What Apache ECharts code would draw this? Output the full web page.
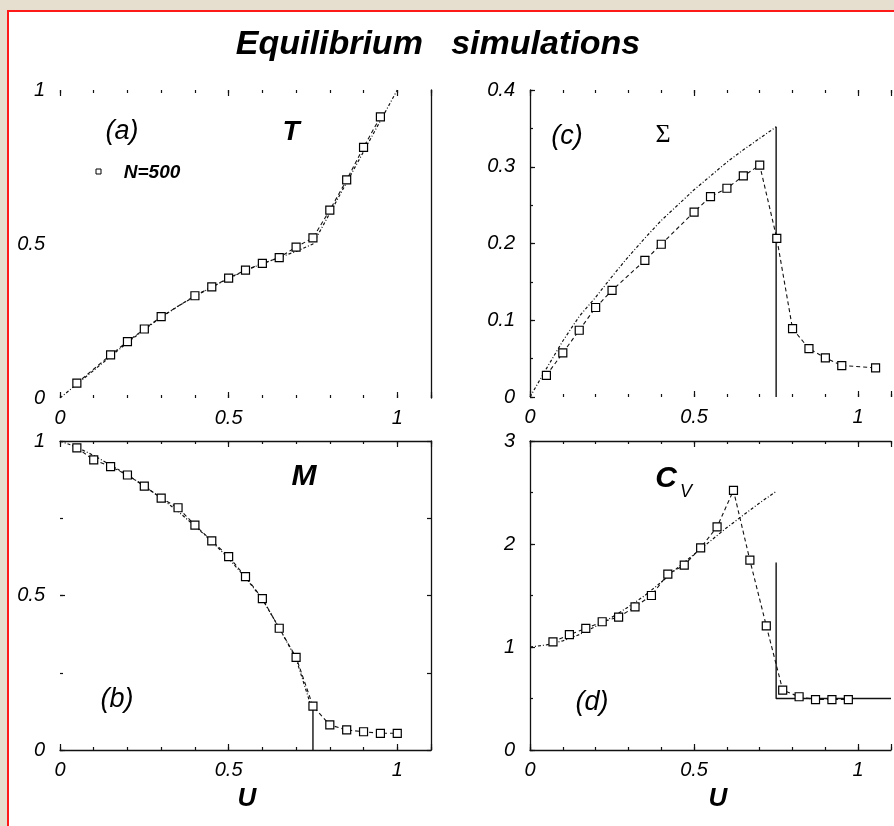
<!DOCTYPE html>
<html><head><meta charset="utf-8">
<script src="https://cdn.jsdelivr.net/npm/echarts@6/dist/echarts.min.js"></script>
<style>
html,body{margin:0;padding:0;background:#e6dfd0;width:894px;height:826px;overflow:hidden;}
#frame{position:absolute;left:7px;top:10px;width:900px;height:830px;background:#fff;border:2px solid #ff1a1a;}
#chart{position:absolute;left:0;top:0;width:894px;height:826px;}
</style></head><body><div id="frame"></div><div id="chart"></div>
<script>
// ---------- DATA ----------
// (a) T vs U
const thA_U = [0,0.05,0.1,0.15,0.2,0.25,0.3,0.35,0.4,0.45,0.5,0.55,0.6,0.65,0.7,0.75,0.8,0.85,0.9,0.95,1.0];
const thA_T = [0,0.045,0.09,0.135,0.18,0.222,0.262,0.298,0.33,0.36,0.388,0.414,0.436,0.456,0.476,0.5,0.6,0.7,0.8,0.9,1.0];
const simA_U = [0.05,0.15,0.2,0.25,0.3,0.4,0.45,0.5,0.55,0.6,0.65,0.7,0.75,0.8,0.85,0.9,0.95];
const simA_T = [0.048,0.14,0.183,0.224,0.264,0.332,0.361,0.389,0.415,0.437,0.456,0.49,0.52,0.61,0.708,0.814,0.913];
// (b) M vs U
const thB_U = [0,0.05,0.1,0.15,0.2,0.25,0.3,0.35,0.4,0.45,0.5,0.55,0.6,0.65,0.7,0.745];
const thB_M = [1,0.98,0.953,0.922,0.89,0.855,0.815,0.772,0.725,0.675,0.62,0.558,0.488,0.395,0.295,0.14];
const jumpB_U = [0.75,0.75];
const jumpB_M = [0.13,0];
const simB_U = [0.05,0.1,0.15,0.2,0.25,0.3,0.35,0.4,0.45,0.5,0.55,0.6,0.65,0.7,0.75,0.8,0.85,0.9,0.95,1.0];
const simB_M = [0.978,0.939,0.917,0.89,0.854,0.815,0.784,0.728,0.677,0.626,0.561,0.49,0.394,0.3,0.142,0.081,0.065,0.059,0.054,0.054];
// (c) Sigma vs U
const thC_U = [0,0.05,0.1,0.15,0.2,0.25,0.3,0.35,0.4,0.45,0.5,0.55,0.6,0.65,0.7,0.75];
const thC_S = [0,0.037,0.073,0.105,0.13,0.157,0.183,0.207,0.23,0.25,0.27,0.288,0.306,0.322,0.337,0.352];
const jumpC_U = [0.75,0.75];
const jumpC_S = [0.352,0];
const simC_U = [0.05,0.1,0.15,0.2,0.25,0.35,0.4,0.5,0.55,0.6,0.65,0.7,0.752,0.8,0.85,0.9,0.95,1.053];
const simC_S = [0.0283,0.0574,0.087,0.1166,0.139,0.178,0.199,0.241,0.261,0.272,0.288,0.302,0.2066,0.089,0.063,0.051,0.041,0.038];
// (d) Cv vs U
const thD_U = [0,0.05,0.1,0.15,0.2,0.25,0.3,0.35,0.4,0.45,0.5,0.55,0.6,0.65,0.7,0.75];
const thD_C = [1.0,1.02,1.06,1.12,1.2,1.29,1.39,1.5,1.63,1.77,1.9,2.03,2.16,2.28,2.4,2.51];
const jumpD_U = [0.75,0.75,1.1];
const jumpD_C = [1.82,0.5,0.5];
const simD_U = [0.07,0.12,0.17,0.22,0.27,0.32,0.37,0.42,0.47,0.52,0.57,0.62,0.67,0.72,0.77,0.82,0.87,0.92,0.97];
const simD_C = [1.05,1.12,1.18,1.245,1.29,1.39,1.5,1.707,1.794,1.963,2.166,2.52,1.843,1.206,0.582,0.517,0.49,0.49,0.49];
// tick labels
const xTickLabels = ['0','0.5','1'];

// ---------- BUILD ----------
const FONT = 'Liberation Sans';
const INK = '#111';
const panels = [
  {grid:{left:60,top:90,width:371,height:308}, yMax:1, yInt:0.5, yMinor:null, rightTick:null,
   lines:{left:false,right:true,top:false,bottom:false}},
  {grid:{left:530,top:90,width:371,height:307}, yMax:0.4, yInt:0.1, yMinor:0.05, rightTick:null,
   lines:{left:true,right:false,top:false,bottom:false}},
  {grid:{left:60,top:441,width:371,height:309}, yMax:1, yInt:0.5, yMinor:0.25, rightTick:0.25,
   lines:{left:false,right:true,top:true,bottom:true}},
  {grid:{left:530,top:441,width:371,height:309}, yMax:3, yInt:1, yMinor:0.5, rightTick:null,
   lines:{left:true,right:false,top:true,bottom:true}}
];
const xAxes = [], yAxes = [];
const lineSt = {show:true, onZero:false, lineStyle:{color:INK, width:1.3}};
panels.forEach((p,gi)=>{
  const mk = (pos, interval, tickLen, showLine, showLabel) => ({
    gridIndex:gi, type:'value', position:pos, min:0, max:1.1, interval:interval,
    axisLine: showLine ? lineSt : {show:false, onZero:false},
    axisTick:{show:true, inside:true, length:tickLen, lineStyle:{color:INK,width:1.2}},
    axisLabel: showLabel ? {show:true, margin:10, fontFamily:FONT, fontStyle:'italic', fontSize:20, color:'#000',
      formatter:v=> (Math.abs(v)<1e-9?xTickLabels[0]:Math.abs(v-0.5)<1e-9?xTickLabels[1]:Math.abs(v-1)<1e-9?xTickLabels[2]:'')} : {show:false},
    splitLine:{show:false}
  });
  xAxes.push(mk('bottom',0.5,6,p.lines.bottom,true));
  xAxes.push(mk('bottom',0.1,3,false,false));
  xAxes.push(mk('top',0.5,6,p.lines.top,false));
  xAxes.push(mk('top',0.1,3,false,false));
  yAxes.push({gridIndex:gi, type:'value', position:'left', min:0, max:p.yMax, interval:p.yInt,
    axisLine: p.lines.left ? lineSt : {show:false,onZero:false},
    axisTick:{show: gi!==0, inside:true, length:5, lineStyle:{color:INK,width:1.2}},
    axisLabel:{show:true, margin:15, fontFamily:FONT, fontStyle:'italic', fontSize:20, color:'#000'},
    splitLine:{show:false}});
  yAxes.push({gridIndex:gi, type:'value', position:'left', min:0, max:p.yMax, interval:p.yMinor||p.yInt,
    axisLine:{show:false,onZero:false},
    axisTick:{show: !!p.yMinor, inside:true, length:3, lineStyle:{color:INK,width:1.2}},
    axisLabel:{show:false}, splitLine:{show:false}});
  yAxes.push({gridIndex:gi, type:'value', position:'right', min:0, max:p.yMax, interval:p.rightTick||p.yInt,
    axisLine: p.lines.right ? lineSt : {show:false,onZero:false},
    axisTick:{show: !!p.rightTick, inside:true, length:4, lineStyle:{color:INK,width:1.2}},
    axisLabel:{show:false}, splitLine:{show:false}});
});
const pts = (xs,ys)=>xs.map((x,i)=>[x,ys[i]]);
const theory = (gi,xs,ys)=>({type:'line', xAxisIndex:4*gi, yAxisIndex:3*gi, data:pts(xs,ys), symbol:'none',
  lineStyle:{color:INK,width:1.2,type:[3,2,1,2]}, silent:true, z:3, animation:false});
const solid = (gi,xs,ys)=>({type:'line', xAxisIndex:4*gi, yAxisIndex:3*gi, data:pts(xs,ys), symbol:'none',
  lineStyle:{color:INK,width:1.4,type:'solid'}, silent:true, z:3, animation:false});
const sim = (gi,xs,ys)=>({type:'line', xAxisIndex:4*gi, yAxisIndex:3*gi, data:pts(xs,ys), symbol:'rect', symbolSize:8,
  showAllSymbol:true, itemStyle:{color:'#fff', borderColor:'#000', borderWidth:1.2},
  lineStyle:{color:INK,width:1.1,type:[4,3]}, silent:true, z:4, animation:false});

const series = [
  theory(0,thA_U,thA_T), sim(0,simA_U,simA_T),
  theory(1,thC_U,thC_S), solid(1,jumpC_U,jumpC_S), sim(1,simC_U,simC_S),
  theory(2,thB_U,thB_M), solid(2,jumpB_U,jumpB_M), sim(2,simB_U,simB_M),
  theory(3,thD_U,thD_C), solid(3,jumpD_U,jumpD_C), sim(3,simD_U,simD_C)
];
const txt = (t,x,y,size,opt={})=>({type:'text', x:x, y:y, z:10, style:Object.assign({text:t, fontFamily:FONT, fontSize:size,
  fontStyle:'italic', fontWeight:'normal', fill:'#000', align:'center', verticalAlign:'middle'}, opt)});
const graphic = [
  txt('Equilibrium   simulations',438,45,34,{fontWeight:'bold'}),
  txt('(a)',122,131,27),
  txt('T',291,132,28,{fontWeight:'bold'}),
  {type:'rect', z:10, shape:{x:96,y:169,width:5,height:5}, style:{fill:'#fff',stroke:'#000',lineWidth:1}},
  txt('N=500',152,173,19,{fontWeight:'bold'}),
  txt('(c)',567,136,27),
  txt('Σ',663,135,26,{fontFamily:'Liberation Serif',fontStyle:'normal'}),
  txt('M',304,477,30,{fontWeight:'bold'}),
  txt('(b)',117,699,27),
  txt('C',666,479,30,{fontWeight:'bold'}),
  txt('V',686,492,18),
  txt('(d)',592,702,27),
  txt('U',247,799,26,{fontWeight:'bold'}),
  txt('U',718,799,26,{fontWeight:'bold'})
];
const chart = echarts.init(document.getElementById('chart'), null, {renderer:'canvas'});
chart.setOption({
  backgroundColor:'transparent', animation:false,
  grid: panels.map(p=>Object.assign({containLabel:false}, p.grid)),
  xAxis:xAxes, yAxis:yAxes, series:series, graphic:graphic
});
</script></body></html>
